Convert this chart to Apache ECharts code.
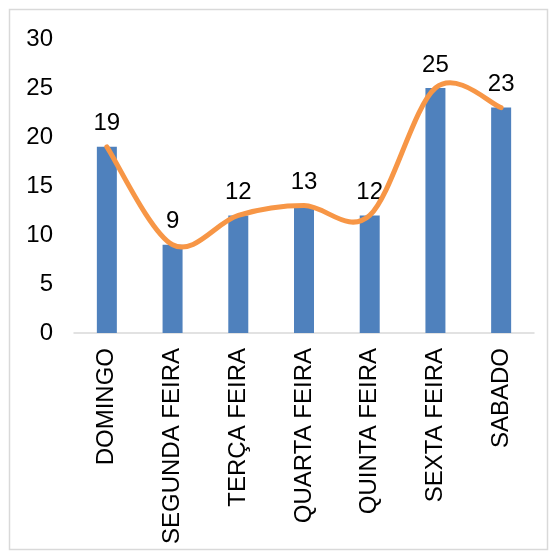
<!DOCTYPE html>
<html><head><meta charset="utf-8">
<script src="https://cdn.jsdelivr.net/npm/echarts@6/dist/echarts.min.js"></script>
<style>html,body{margin:0;padding:0;background:#fff}#c{width:551px;height:553px}</style>
</head><body><div id="c"></div>
<script>
const categories = ["DOMINGO","SEGUNDA FEIRA","TERÇA FEIRA","QUARTA FEIRA","QUINTA FEIRA","SEXTA FEIRA","SABADO"];
const barValues = [19, 9, 12, 13, 12, 25, 23];
const lineValues = [19, 9, 12, 13, 12, 25, 23];
const yTicks = {min: 0, max: 30, interval: 5};

const FONT = 'Liberation Sans';
const chart = echarts.init(document.getElementById('c'), null, {renderer: 'canvas'});

// Excel-style (Catmull-Rom) smooth line drawn through the chart's own coordinate system
function renderSmooth(params, api) {
  if (params.dataIndex !== 0) return null;
  const pts = lineValues.map((v, i) => api.coord([i, v]));
  const n = pts.length;
  const P = i => pts[Math.max(0, Math.min(n - 1, i))];
  let d = 'M' + pts[0][0] + ',' + pts[0][1];
  for (let i = 0; i < n - 1; i++) {
    const p0 = P(i - 1), p1 = P(i), p2 = P(i + 1), p3 = P(i + 2);
    const c1 = [p1[0] + (p2[0] - p0[0]) / 6, p1[1] + (p2[1] - p0[1]) / 6];
    const c2 = [p2[0] - (p3[0] - p1[0]) / 6, p2[1] - (p3[1] - p1[1]) / 6];
    d += ' C' + c1[0] + ',' + c1[1] + ' ' + c2[0] + ',' + c2[1] + ' ' + p2[0] + ',' + p2[1];
  }
  return {
    type: 'path',
    shape: {pathData: d},
    style: {fill: 'none', stroke: '#F79646', lineWidth: 5, lineCap: 'round', lineJoin: 'round'}
  };
}

chart.setOption({
  animation: false,
  backgroundColor: '#fff',
  graphic: [{type: 'rect', shape: {x: 9.5, y: 9.5, width: 538, height: 540}, style: {fill: 'none', stroke: '#d9d9d9', lineWidth: 1.5}}],
  grid: {left: 74, right: 17, top: 39, bottom: 220},
  xAxis: {
    type: 'category', data: categories,
    axisLine: {lineStyle: {color: '#d9d9d9', width: 1.5}},
    axisTick: {show: false},
    axisLabel: {rotate: 90, fontSize: 24, fontFamily: FONT, color: '#000', margin: 15, interval: 0}
  },
  yAxis: {
    type: 'value', min: yTicks.min, max: yTicks.max, interval: yTicks.interval,
    axisLine: {show: false}, axisTick: {show: false}, splitLine: {show: false},
    axisLabel: {fontSize: 24, fontFamily: FONT, color: '#000', margin: 21}
  },
  series: [
    {type: 'bar', data: barValues, barWidth: 20, itemStyle: {color: '#4F81BD'},
     label: {show: true, position: 'top', distance: 11, fontSize: 24, fontFamily: FONT, color: '#000'}},
    {type: 'custom', renderItem: renderSmooth, data: lineValues.map((v, i) => [i, v]),
     encode: {x: 0, y: 1}, z: 5, silent: true}
  ]
});
</script></body></html>
